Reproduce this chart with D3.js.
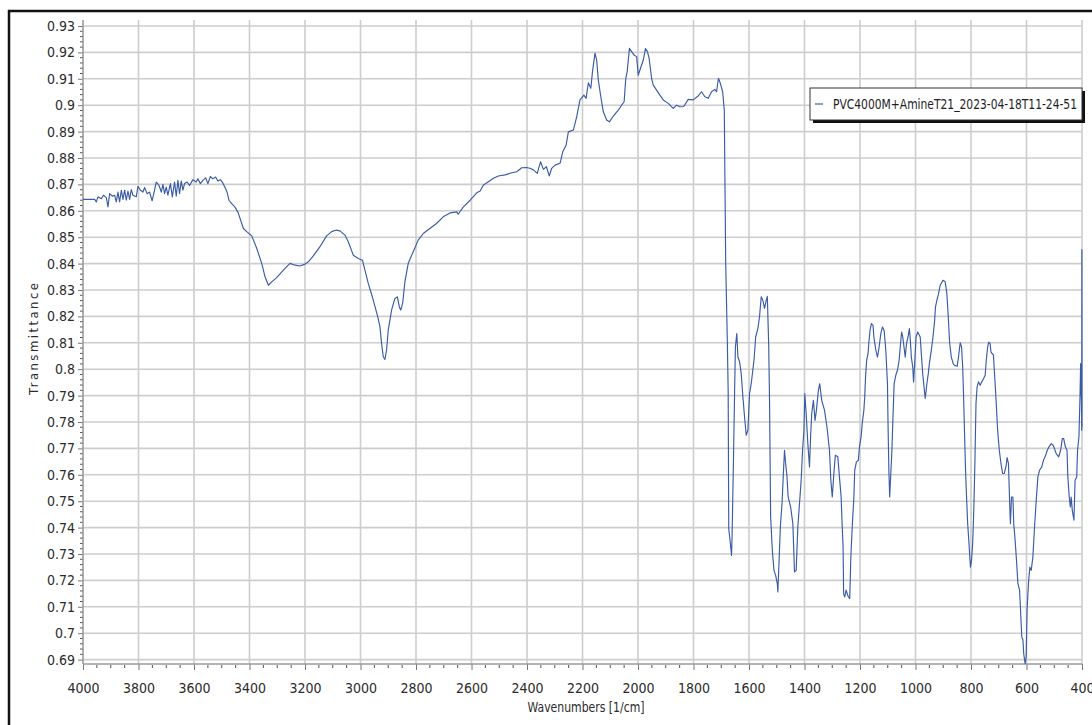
<!DOCTYPE html>
<html>
<head>
<meta charset="utf-8">
<script src="https://cdn.jsdelivr.net/npm/d3@7"></script>
<style>
  html, body { margin: 0; padding: 0; background: #fff; }
  svg { display: block; }
</style>
</head>
<body>
<svg id="chart" width="1092" height="725"></svg>
<script>
// Axis ticks
const xTicks = [4000, 3800, 3600, 3400, 3200, 3000, 2800, 2600, 2400, 2200, 2000, 1800, 1600, 1400, 1200, 1000, 800, 600, 400];
const yTicks = [0.69, 0.70, 0.71, 0.72, 0.73, 0.74, 0.75, 0.76, 0.77, 0.78, 0.79, 0.80, 0.81,
                0.82, 0.83, 0.84, 0.85, 0.86, 0.87, 0.88, 0.89, 0.90, 0.91, 0.92, 0.93];

const seriesName = "PVC4000M+AmineT21_2023-04-18T11-24-51";
const xTitle = "Wavenumbers [1/cm]";
const yTitle = "Transmittance";

// FTIR spectrum: [wavenumber (1/cm), transmittance]
const spectrum = [
  [4000,0.8643],[3958,0.8643],[3952,0.8634],[3946,0.8653],[3934,0.8646],[3926,0.8659],[3916,0.8650],
  [3910,0.8615],[3904,0.8665],[3894,0.8655],[3886,0.8659],[3880,0.8634],[3874,0.8671],[3868,0.8634],
  [3862,0.8678],[3856,0.8643],[3850,0.8678],[3844,0.8640],[3838,0.8675],[3832,0.8643],[3826,0.8680],
  [3820,0.8659],[3808,0.8653],[3802,0.8693],[3793,0.8678],[3784,0.8671],[3778,0.8688],[3769,0.8665],
  [3760,0.8671],[3751,0.8638],[3745,0.8665],[3736,0.8709],[3726,0.8696],[3718,0.8671],[3712,0.8700],
  [3706,0.8665],[3700,0.8690],[3694,0.8659],[3685,0.8703],[3678,0.8653],[3670,0.8709],[3664,0.8655],
  [3658,0.8715],[3652,0.8665],[3646,0.8713],[3640,0.8678],[3634,0.8703],[3625,0.8709],[3616,0.8696],
  [3604,0.8718],[3592,0.8709],[3586,0.8721],[3577,0.8703],[3568,0.8715],[3558,0.8725],[3550,0.8703],
  [3541,0.8730],[3532,0.8721],[3522,0.8728],[3514,0.8713],[3505,0.8718],[3498,0.8709],[3489,0.8690],
  [3481,0.8671],[3474,0.8640],[3465,0.8628],[3453,0.8615],[3441,0.8593],
  [3422,0.8533],[3410,0.8521],[3392,0.8505],[3374,0.8458],
  [3356,0.8401],[3344,0.8350],[3332,0.8318],[3320,0.8331],[3302,0.8347],[3278,0.8375],[3254,0.8401],
  [3236,0.8394],[3218,0.8391],[3200,0.8398],[3188,0.8407],[3170,0.8429],[3146,0.8464],[3122,0.8505],
  [3104,0.8521],[3086,0.8527],[3074,0.8524],[3056,0.8508],[3044,0.8483],[3026,0.8432],[3008,0.8419],
  [2993,0.8413],[2984,0.8375],[2972,0.8325],[2954,0.8262],[2938,0.8199],[2930,0.8161],[2924,0.8098],
  [2918,0.8047],[2912,0.8037],[2906,0.8073],[2900,0.8148],[2888,0.8224],[2876,0.8268],[2867,0.8274],
  [2860,0.8236],[2855,0.8224],[2848,0.8250],[2840,0.8331],[2828,0.8401],[2810,0.8445],[2792,0.8489],
  [2774,0.8514],[2750,0.8533],[2726,0.8552],[2702,0.8577],[2677,0.8592],[2653,0.8596],[2648,0.8587],
  [2630,0.8614],[2605,0.8640],[2581,0.8668],
  [2569,0.8675],[2557,0.8698],[2539,0.8710],[2521,0.8723],[2503,0.8732],[2479,0.8736],[2455,0.8744],
  [2437,0.8748],[2419,0.8763],[2401,0.8764],[2390,0.8761],[2377,0.8755],[2363,0.8742],[2351,0.8786],
  [2341,0.8757],[2330,0.8767],[2320,0.8732],[2311,0.8761],[2299,0.8773],[2281,0.8780],[2271,0.8824],
  [2259,0.8849],[2251,0.8899],[2233,0.8906],[2221,0.8956],[2209,0.9020],[2195,0.9038],[2187,0.9026],
  [2179,0.9085],[2170,0.9064],[2164,0.9127],[2155,0.9197],[2149,0.9171],[2143,0.9095],[2134,0.9032],
  [2125,0.8975],[2113,0.8944],[2103,0.8937],[2089,0.8959],[2071,0.8981],[2059,0.9000],[2050,0.9013],
  [2044,0.9102],[2039,0.9127],[2031,0.9215],[2023,0.9203],[2014,0.9190],[2005,0.9184],[1999,0.9114],
  [1991,0.9140],[1981,0.9171],[1973,0.9215],[1966,0.9203],[1960,0.9178],[1951,0.9102],[1945,0.9076],
  [1933,0.9057],[1921,0.9038],[1909,0.9020],[1891,0.9007],[1873,0.8988],[1861,0.9000],[1849,0.8994],
  [1835,0.8995],[1819,0.9022],[1801,0.9020],[1783,0.9035],[1771,0.9051],[1759,0.9032],[1747,0.9026],
  [1735,0.9051],[1723,0.9060],[1717,0.9051],[1710,0.9102],[1703,0.9082],[1695,0.9051],[1689,0.8981],
  [1684,0.8406],[1678,0.8100],[1675,0.7914],[1673,0.7396],[1667,0.7339],[1663,0.7295],[1661,0.7365],
  [1656,0.7655],[1652,0.7908],[1649,0.8084],[1644,0.8135],[1640,0.8046],[1634,0.8028],[1628,0.7983],
  [1622,0.7895],[1616,0.7819],[1610,0.7750],[1604,0.7769],[1598,0.7908],[1592,0.7945],[1582,0.8034],
  [1576,0.8122],[1568,0.8154],[1562,0.8200],[1556,0.8274],[1550,0.8261],[1544,0.8230],[1538,0.8261],
  [1534,0.8276],[1529,0.8091],[1526,0.7882],[1522,0.7440],[1516,0.7314],[1510,0.7238],[1504,0.7219],
  [1498,0.7188],[1496,0.7156],[1492,0.7264],[1487,0.7403],[1481,0.7491],[1475,0.7630],[1472,0.7693],
  [1468,0.7643],[1463,0.7592],[1459,0.7516],[1450,0.7478],[1442,0.7415],[1436,0.7232],[1430,0.7238],
  [1424,0.7403],[1418,0.7491],[1412,0.7579],[1407,0.7693],[1402,0.7769],[1399,0.7908],[1394,0.7832],
  [1388,0.7718],[1382,0.7630],[1378,0.7743],[1374,0.7832],[1368,0.7882],[1362,0.7806],[1357,0.7845],
  [1350,0.7920],[1345,0.7945],[1338,0.7882],[1328,0.7845],[1319,0.7781],[1310,0.7693],
  [1305,0.7579],[1300,0.7516],[1295,0.7592],[1289,0.7674],[1280,0.7668],[1273,0.7579],[1268,0.7516],
  [1265,0.7428],[1261,0.7327],[1259,0.7150],[1255,0.7137],[1250,0.7163],[1243,0.7140],[1237,0.7131],
  [1233,0.7289],[1228,0.7403],[1222,0.7516],[1219,0.7617],[1213,0.7649],[1206,0.7655],[1202,0.7706],
  [1196,0.7744],[1192,0.7794],[1186,0.7845],[1183,0.7895],[1180,0.7971],[1176,0.8034],[1171,0.8059],
  [1168,0.8100],[1164,0.8147],[1159,0.8173],[1153,0.8166],[1150,0.8122],[1143,0.8072],[1137,0.8046],
  [1131,0.8084],[1125,0.8135],[1119,0.8160],[1113,0.8147],[1107,0.8072],[1101,0.7945],[1099,0.7794],
  [1096,0.7617],[1093,0.7516],[1089,0.7605],[1085,0.7693],[1082,0.7794],[1077,0.7945],[1071,0.7977],
  [1065,0.7996],[1059,0.8034],[1055,0.8084],[1050,0.8141],[1046,0.8122],[1040,0.8072],[1037,0.8046],
  [1032,0.8100],[1027,0.8122],[1022,0.8154],[1019,0.8115],[1015,0.8046],[1010,0.8009],[1007,0.7952],
  [1003,0.8021],[998,0.8122],[992,0.8141],[983,0.8122],[979,0.8059],[974,0.7983],[968,0.7920],
  [965,0.7889],[959,0.7945],[954,0.7983],[950,0.8021],[943,0.8072],[937,0.8122],[931,0.8185],
  [928,0.8236],[923,0.8261],[917,0.8286],[911,0.8318],[901,0.8337],[893,0.8331],[887,0.8286],
  [882,0.8200],[877,0.8100],[871,0.8046],[864,0.8021],
  [860,0.8015],[850,0.8011],[845,0.8046],[839,0.8100],[834,0.8084],[830,0.8009],[827,0.7908],
  [823,0.7744],[820,0.7630],[817,0.7541],[812,0.7415],[808,0.7352],[805,0.7300],[802,0.7250],
  [798,0.7276],[794,0.7339],[790,0.7466],[786,0.7643],[782,0.7870],[778,0.7933],[773,0.7952],
  [767,0.7939],[761,0.7952],[755,0.7964],[749,0.7977],[745,0.8034],[740,0.8084],[736,0.8103],
  [731,0.8097],[728,0.8065],[719,0.8053],[716,0.7996],[711,0.7908],[704,0.7769],[698,0.7693],
  [692,0.7643],[686,0.7605],[680,0.7605],[673,0.7636],[670,0.7665],[665,0.7643],[661,0.7503],
  [658,0.7415],[654,0.7516],[649,0.7516],[646,0.7415],[641,0.7352],[636,0.7276],[631,0.7188],
  [625,0.7163],[622,0.7099],[617,0.6986],[613,0.6975],[610,0.6922],[605,0.6885],[601,0.6911],
  [598,0.7087],[593,0.7188],[588,0.7250],[583,0.7238],[577,0.7289],[571,0.7402],[565,0.7503],
  [559,0.7592],[553,0.7617],[545,0.7630],[539,0.7655],[533,0.7668],[525,0.7693],[519,0.7706],
  [511,0.7718],[504,0.7712],[499,0.7699],[493,0.7680],[484,0.7668],[477,0.7693],[471,0.7737],
  [466,0.7737],[460,0.7706],[454,0.7693],[451,0.7592],[446,0.7516],[442,0.7478],[439,0.7516],
  [435,0.7465],[429,0.7428],[425,0.7579],[419,0.7592],[416,0.7693],[411,0.7744],[407,0.7908],
  [405,0.8021],[402,0.7869],[401,0.7769],[400.4,0.8453],[400,0.7780]
];

const FONT = "'Liberation Sans Narrow', 'DejaVu Sans Condensed', 'Liberation Sans', sans-serif";

const svg = d3.select("#chart");
const W = 1092, H = 725;

// plot frame
const plot = { left: 83, right: 1082, top: 20, bottom: 664 };

const x = d3.scaleLinear().domain([4000, 400]).range([plot.left, plot.right]);
const y = d3.scaleLinear().domain([0.69, 0.93]).range([659.6, 26]);

svg.append("rect").attr("width", W).attr("height", H).attr("fill", "#fff");

// outer border of the figure
svg.append("rect")
  .attr("x", 9).attr("y", 11)
  .attr("width", 1200).attr("height", 800)
  .attr("fill", "none").attr("stroke", "#111").attr("stroke-width", 2.5);

// grid
const grid = svg.append("g").attr("stroke", "#cdcdcd").attr("stroke-width", 1.6);
grid.selectAll("line.v").data(xTicks).join("line")
  .attr("class", "v")
  .attr("x1", d => x(d)).attr("x2", d => x(d))
  .attr("y1", plot.top).attr("y2", plot.bottom);
grid.selectAll("line.h").data(yTicks).join("line")
  .attr("class", "h")
  .attr("x1", plot.left).attr("x2", plot.right)
  .attr("y1", d => y(d)).attr("y2", d => y(d));

// minor ticks
const xMinor = d3.range(4000, 399, -50).filter(v => v % 200 !== 0);
const yMinor = d3.range(690, 931, 2).map(v => v / 1000).filter(v => Math.round(v * 1000) % 10 !== 0);

svg.append("g").attr("stroke", "#555").attr("stroke-width", 1)
  .selectAll("line").data(xMinor).join("line")
  .attr("x1", d => x(d)).attr("x2", d => x(d))
  .attr("y1", plot.bottom + 1).attr("y2", plot.bottom + 4);
svg.append("g").attr("stroke", "#555").attr("stroke-width", 1)
  .selectAll("line").data(yMinor).join("line")
  .attr("x1", plot.left - 3).attr("x2", plot.left)
  .attr("y1", d => y(d)).attr("y2", d => y(d));

// axes
const yAxis = svg.append("g")
  .attr("transform", `translate(${plot.left},0)`)
  .call(d3.axisLeft(y).tickValues(yTicks).tickSize(5).tickPadding(3)
        .tickFormat(d => String(+d.toFixed(2))));
yAxis.select(".domain").remove();
yAxis.selectAll(".tick line").attr("stroke", "#777");
yAxis.selectAll(".tick text")
  .attr("fill", "#2b2b2b").style("font-family", FONT).style("font-size", "14px");

const xAxis = svg.append("g")
  .attr("transform", `translate(0,${plot.bottom})`)
  .call(d3.axisBottom(x).tickValues(xTicks).tickSize(6).tickPadding(13)
        .tickFormat(d => String(d)));
xAxis.select(".domain").remove();
xAxis.selectAll(".tick line").attr("stroke", "#777");
xAxis.selectAll(".tick text")
  .attr("fill", "#2b2b2b").style("font-family", FONT).style("font-size", "14px");

// axis lines
svg.append("line")
  .attr("x1", plot.left).attr("x2", plot.left)
  .attr("y1", plot.top).attr("y2", plot.bottom)
  .attr("stroke", "#9a9a9a").attr("stroke-width", 1.3);
svg.append("line")
  .attr("x1", plot.left).attr("x2", plot.right)
  .attr("y1", plot.bottom).attr("y2", plot.bottom)
  .attr("stroke", "#9a9a9a").attr("stroke-width", 1.3);

// spectrum
const line = d3.line().x(d => x(d[0])).y(d => y(d[1]));
svg.append("path")
  .datum(spectrum)
  .attr("d", line)
  .attr("fill", "none")
  .attr("stroke", "#3a5ba6")
  .attr("stroke-width", 1.15)
  .attr("stroke-linejoin", "round");

// axis titles
svg.append("text")
  .attr("x", 586).attr("y", 712)
  .attr("text-anchor", "middle")
  .attr("fill", "#2b2b2b")
  .style("font-family", FONT).style("font-size", "14px")
  .attr("textLength", 117).attr("lengthAdjust", "spacingAndGlyphs")
  .text(xTitle);

svg.append("text")
  .attr("transform", "translate(38,339) rotate(-90)")
  .attr("text-anchor", "middle")
  .attr("fill", "#2b2b2b")
  .style("font-family", FONT).style("font-size", "13px")
  .attr("textLength", 112).attr("lengthAdjust", "spacing")
  .text(yTitle);

// legend
const lg = svg.append("g").attr("transform", "translate(810,88)");
lg.append("rect").attr("x", 3).attr("y", 3).attr("width", 272).attr("height", 32).attr("fill", "#111");
lg.append("rect").attr("x", 0).attr("y", 0).attr("width", 272).attr("height", 32)
  .attr("fill", "#fff").attr("stroke", "#333").attr("stroke-width", 1);
lg.append("line").attr("x1", 5).attr("x2", 13).attr("y1", 16).attr("y2", 16)
  .attr("stroke", "#3a5ba6").attr("stroke-width", 1.2);
lg.append("text")
  .attr("x", 23).attr("y", 21)
  .attr("fill", "#1e1e1e")
  .style("font-family", FONT).style("font-size", "13.5px")
  .attr("textLength", 244).attr("lengthAdjust", "spacingAndGlyphs")
  .text(seriesName);
</script>
</body>
</html>
